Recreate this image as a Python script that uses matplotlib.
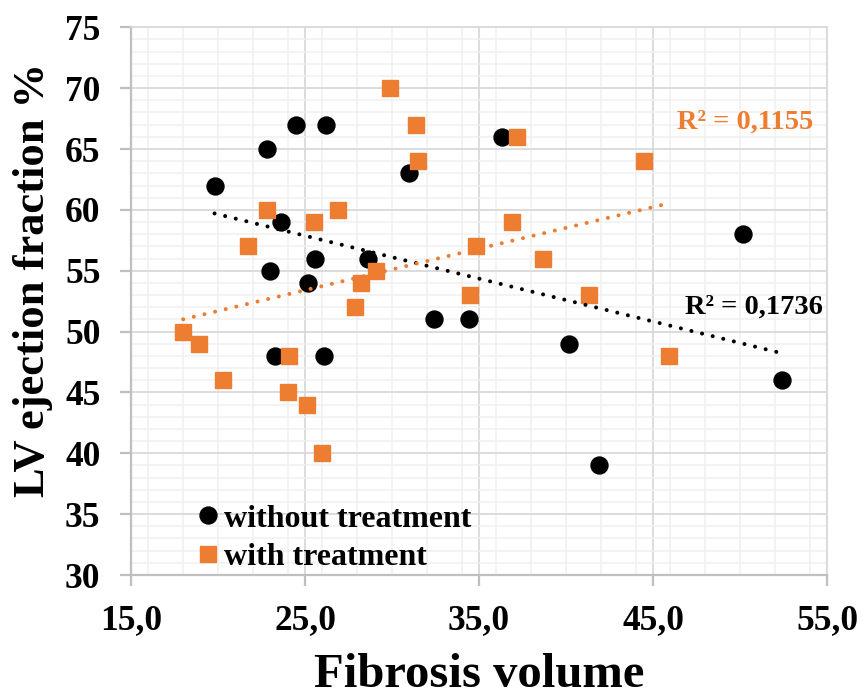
import numpy as np
import matplotlib
matplotlib.use("Agg")
import matplotlib.pyplot as plt
from matplotlib.ticker import MultipleLocator

# Fibrosis volume vs LV ejection fraction, two patient groups
untreated_x = [19.8, 22.8, 24.5, 26.2, 23.6, 25.6, 28.6, 23.0, 25.2, 31.0,
               36.3, 50.2, 23.3, 26.1, 32.4, 34.4, 40.2, 41.9, 52.4]
untreated_y = [62, 65, 67, 67, 59, 56, 56, 55, 54, 63,
               66, 58, 48, 48, 51, 51, 49, 39, 46]

treated_x = [29.9, 31.4, 31.5, 22.8, 25.5, 26.9, 21.7, 29.1, 28.2, 37.2,
             44.5, 36.9, 34.8, 38.7, 41.3, 45.9, 27.9, 34.5, 18.0, 18.9,
             20.3, 24.1, 24.0, 25.1, 26.0]
treated_y = [70, 67, 64, 60, 59, 60, 57, 55, 54, 66,
             64, 59, 57, 56, 53, 48, 52, 53, 50, 49,
             46, 48, 45, 44, 40]

series_labels = ["without treatment", "with treatment"]
r2_labels = ["R² = 0,1736", "R² = 0,1155"]

x_ticks = [15, 25, 35, 45, 55]
x_tick_labels = ["15,0", "25,0", "35,0", "45,0", "55,0"]
y_ticks = [30, 35, 40, 45, 50, 55, 60, 65, 70, 75]

ORANGE = "#ED7D31"
BLACK = "#000000"

plt.rcParams["font.family"] = ["Liberation Serif", "DejaVu Serif"]
plt.rcParams["font.weight"] = "bold"

fig = plt.figure(figsize=(8.63, 6.98), dpi=100)
ax = fig.add_axes([0.1518, 0.1762, 0.8065, 0.7847])

ax.set_xlim(x_ticks[0], x_ticks[-1])
ax.set_ylim(y_ticks[0], y_ticks[-1])

# grid: light minor lines, slightly darker major lines
ax.xaxis.set_minor_locator(MultipleLocator(2))
ax.yaxis.set_minor_locator(MultipleLocator(1))
ax.grid(which="minor", color="#f0f0f0", lw=1.1, zorder=0)
ax.grid(which="major", color="#d9d9d9", lw=1.3, zorder=0)
ax.set_axisbelow(True)

for side in ["top", "right"]:
    ax.spines[side].set_color("#d9d9d9")
    ax.spines[side].set_linewidth(1.3)
for side in ["left", "bottom"]:
    ax.spines[side].set_color("#bfbfbf")
    ax.spines[side].set_linewidth(1.6)

ax.set_xticks(x_ticks)
ax.set_xticklabels(x_tick_labels)
ax.set_yticks(y_ticks)
ax.tick_params(which="major", length=8, width=1.6, color="#bfbfbf",
               labelsize=25.5, direction="out")
ax.tick_params(axis="x", pad=13)
ax.tick_params(axis="y", pad=14)
ax.tick_params(which="minor", length=0)
for lab in ax.get_xticklabels() + ax.get_yticklabels():
    lab.set_fontweight("bold")

# scatter series
ms = 12.2
ax.plot(untreated_x, untreated_y, "o", ms=ms, color=BLACK, mec=BLACK,
        label=series_labels[0], zorder=3)
ax.plot(treated_x, treated_y, "s", ms=ms, color=ORANGE, mec=ORANGE,
        label=series_labels[1], zorder=4)

# linear trend lines over each series' x range
for xs, ys, col in [(untreated_x, untreated_y, BLACK),
                    (treated_x, treated_y, ORANGE)]:
    xs = np.asarray(xs, float)
    ys = np.asarray(ys, float)
    k, b = np.polyfit(xs, ys, 1)
    xx = np.array([xs.min(), xs.max()])
    ax.plot(xx, k * xx + b, color=col, lw=2.9, linestyle=(0, (0.01, 2.7)),
            dash_capstyle="round", zorder=5)

ax.text(0.994, 0.489, r2_labels[0], transform=ax.transAxes, fontsize=20.5,
        fontweight="bold", color=BLACK, ha="right", va="center", zorder=6)
ax.text(0.980, 0.827, r2_labels[1], transform=ax.transAxes, fontsize=20.5,
        fontweight="bold", color=ORANGE, ha="right", va="center", zorder=6)

ax.set_xlabel("Fibrosis volume", fontsize=35, fontweight="bold")
ax.xaxis.label.set_va("baseline")
ax.xaxis.set_label_coords(0.5, -0.205)
ax.set_ylabel("LV ejection fraction %", fontsize=32, fontweight="bold")
ax.yaxis.set_label_coords(-0.112, 0.538)

leg = ax.legend(loc="lower left", bbox_to_anchor=(0.079, -0.007), frameon=False,
                prop={"size": 23, "weight": "bold"}, handletextpad=0.0,
                labelspacing=0.3, handlelength=1.0, borderaxespad=0.0,
                borderpad=0.2)

fig.savefig("out.png", dpi=100)
